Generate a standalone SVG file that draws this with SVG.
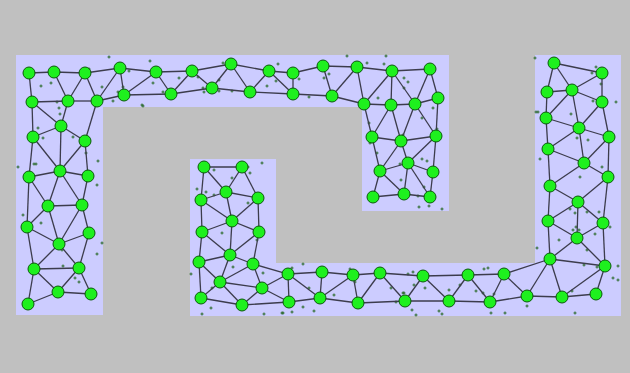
<svg xmlns="http://www.w3.org/2000/svg" xmlns:xlink="http://www.w3.org/1999/xlink" width="630" height="373" viewBox="0 0 630 373">
<style>
.reg{fill:#ccccff;stroke:none}
.e line{stroke:#3c3c4c;stroke-width:1.3}
.n circle{fill:#1ef01e;stroke:#0b5a0b;stroke-width:1}
.d{fill:#2a6a2a}
</style>
<defs>
<path id="p" d="M-1.5,-0.5h1v-1h1v1h1v1h-1v1h-1v-1h-1z"/>
</defs>
<rect width="630" height="373" fill="#c0c0c0"/>
<g id="regions">
<path class="reg" d="M16,55H449V211H362V107H103V315H16Z"/>
<path class="reg" d="M190,159H276V263H535V55H621V316H190Z"/>
</g>
<g id="dots" class="d">
<use xlink:href="#p" x="109" y="57"/><use xlink:href="#p" x="150" y="61"/><use xlink:href="#p" x="41" y="86"/><use xlink:href="#p" x="51" y="83"/><use xlink:href="#p" x="89" y="69"/><use xlink:href="#p" x="129" y="71"/><use xlink:href="#p" x="102" y="87"/><use xlink:href="#p" x="118" y="92"/><use xlink:href="#p" x="113" y="101"/><use xlink:href="#p" x="143" y="106"/><use xlink:href="#p" x="153" y="83"/><use xlink:href="#p" x="57" y="102"/><use xlink:href="#p" x="59" y="108"/><use xlink:href="#p" x="60" y="114"/><use xlink:href="#p" x="38" y="128"/><use xlink:href="#p" x="43" y="138"/><use xlink:href="#p" x="73" y="137"/><use xlink:href="#p" x="86" y="153"/><use xlink:href="#p" x="98" y="161"/><use xlink:href="#p" x="18" y="167"/><use xlink:href="#p" x="34" y="164"/><use xlink:href="#p" x="36" y="164"/><use xlink:href="#p" x="31" y="103"/>
<use xlink:href="#p" x="97" y="185"/><use xlink:href="#p" x="23" y="215"/><use xlink:href="#p" x="41" y="223"/><use xlink:href="#p" x="48" y="205"/><use xlink:href="#p" x="102" y="243"/><use xlink:href="#p" x="97" y="254"/><use xlink:href="#p" x="62" y="250"/><use xlink:href="#p" x="63" y="266"/><use xlink:href="#p" x="75" y="278"/><use xlink:href="#p" x="79" y="282"/><use xlink:href="#p" x="60" y="289"/><use xlink:href="#p" x="87" y="234"/>
<use xlink:href="#p" x="123" y="87"/><use xlink:href="#p" x="163" y="92"/><use xlink:href="#p" x="179" y="78"/><use xlink:href="#p" x="198" y="77"/><use xlink:href="#p" x="203" y="88"/><use xlink:href="#p" x="204" y="92"/><use xlink:href="#p" x="219" y="80"/><use xlink:href="#p" x="219" y="91"/><use xlink:href="#p" x="232" y="91"/><use xlink:href="#p" x="142" y="105"/><use xlink:href="#p" x="223" y="63"/>
<use xlink:href="#p" x="278" y="64"/><use xlink:href="#p" x="347" y="56"/><use xlink:href="#p" x="386" y="56"/><use xlink:href="#p" x="276" y="81"/><use xlink:href="#p" x="267" y="86"/><use xlink:href="#p" x="299" y="79"/><use xlink:href="#p" x="329" y="74"/><use xlink:href="#p" x="324" y="78"/><use xlink:href="#p" x="367" y="63"/><use xlink:href="#p" x="384" y="64"/><use xlink:href="#p" x="309" y="97"/><use xlink:href="#p" x="378" y="98"/><use xlink:href="#p" x="404" y="78"/><use xlink:href="#p" x="408" y="82"/><use xlink:href="#p" x="404" y="88"/><use xlink:href="#p" x="433" y="108"/><use xlink:href="#p" x="422" y="118"/>
<use xlink:href="#p" x="369" y="123"/><use xlink:href="#p" x="377" y="153"/><use xlink:href="#p" x="403" y="135"/><use xlink:href="#p" x="437" y="129"/><use xlink:href="#p" x="400" y="164"/><use xlink:href="#p" x="422" y="159"/><use xlink:href="#p" x="427" y="161"/><use xlink:href="#p" x="401" y="180"/><use xlink:href="#p" x="418" y="196"/><use xlink:href="#p" x="424" y="187"/><use xlink:href="#p" x="419" y="207"/><use xlink:href="#p" x="429" y="206"/><use xlink:href="#p" x="442" y="209"/><use xlink:href="#p" x="370" y="143"/>
<use xlink:href="#p" x="535" y="58"/><use xlink:href="#p" x="596" y="67"/><use xlink:href="#p" x="592" y="73"/><use xlink:href="#p" x="601" y="84"/><use xlink:href="#p" x="593" y="101"/><use xlink:href="#p" x="616" y="102"/><use xlink:href="#p" x="536" y="112"/><use xlink:href="#p" x="538" y="112"/><use xlink:href="#p" x="571" y="114"/><use xlink:href="#p" x="588" y="140"/><use xlink:href="#p" x="577" y="138"/><use xlink:href="#p" x="540" y="159"/><use xlink:href="#p" x="602" y="167"/><use xlink:href="#p" x="580" y="177"/>
<use xlink:href="#p" x="570" y="209"/><use xlink:href="#p" x="575" y="213"/><use xlink:href="#p" x="587" y="212"/><use xlink:href="#p" x="599" y="212"/><use xlink:href="#p" x="573" y="230"/><use xlink:href="#p" x="576" y="227"/><use xlink:href="#p" x="579" y="230"/><use xlink:href="#p" x="559" y="240"/><use xlink:href="#p" x="537" y="248"/><use xlink:href="#p" x="595" y="234"/><use xlink:href="#p" x="587" y="250"/><use xlink:href="#p" x="584" y="265"/><use xlink:href="#p" x="597" y="267"/><use xlink:href="#p" x="618" y="266"/><use xlink:href="#p" x="613" y="278"/><use xlink:href="#p" x="618" y="280"/><use xlink:href="#p" x="572" y="291"/><use xlink:href="#p" x="527" y="306"/><use xlink:href="#p" x="575" y="313"/><use xlink:href="#p" x="610" y="227"/>
<use xlink:href="#p" x="262" y="163"/><use xlink:href="#p" x="248" y="167"/><use xlink:href="#p" x="250" y="173"/><use xlink:href="#p" x="214" y="170"/><use xlink:href="#p" x="232" y="178"/><use xlink:href="#p" x="197" y="189"/><use xlink:href="#p" x="206" y="192"/><use xlink:href="#p" x="214" y="195"/><use xlink:href="#p" x="248" y="203"/><use xlink:href="#p" x="222" y="233"/><use xlink:href="#p" x="257" y="240"/><use xlink:href="#p" x="191" y="274"/><use xlink:href="#p" x="233" y="267"/><use xlink:href="#p" x="263" y="273"/><use xlink:href="#p" x="212" y="288"/><use xlink:href="#p" x="211" y="308"/><use xlink:href="#p" x="202" y="314"/><use xlink:href="#p" x="264" y="314"/><use xlink:href="#p" x="283" y="313"/>
<use xlink:href="#p" x="303" y="264"/><use xlink:href="#p" x="292" y="268"/><use xlink:href="#p" x="309" y="288"/><use xlink:href="#p" x="334" y="295"/><use xlink:href="#p" x="321" y="299"/><use xlink:href="#p" x="282" y="313"/><use xlink:href="#p" x="292" y="312"/><use xlink:href="#p" x="303" y="307"/><use xlink:href="#p" x="314" y="311"/><use xlink:href="#p" x="350" y="269"/><use xlink:href="#p" x="355" y="282"/><use xlink:href="#p" x="391" y="288"/><use xlink:href="#p" x="396" y="302"/><use xlink:href="#p" x="403" y="293"/><use xlink:href="#p" x="408" y="274"/>
<use xlink:href="#p" x="413" y="272"/><use xlink:href="#p" x="414" y="285"/><use xlink:href="#p" x="425" y="288"/><use xlink:href="#p" x="404" y="293"/><use xlink:href="#p" x="412" y="310"/><use xlink:href="#p" x="416" y="315"/><use xlink:href="#p" x="439" y="311"/><use xlink:href="#p" x="442" y="314"/><use xlink:href="#p" x="449" y="290"/><use xlink:href="#p" x="460" y="285"/><use xlink:href="#p" x="476" y="291"/><use xlink:href="#p" x="483" y="293"/><use xlink:href="#p" x="484" y="269"/><use xlink:href="#p" x="488" y="268"/><use xlink:href="#p" x="489" y="300"/><use xlink:href="#p" x="494" y="294"/><use xlink:href="#p" x="491" y="313"/><use xlink:href="#p" x="505" y="313"/>
</g>
<g id="connectors" class="e">
<line x1="29" y1="73" x2="54" y2="72"/><line x1="54" y1="72" x2="85" y2="73"/><line x1="54" y1="72" x2="68" y2="101"/><line x1="85" y1="73" x2="68" y2="101"/><line x1="85" y1="73" x2="97" y2="101"/><line x1="85" y1="73" x2="120" y2="68"/><line x1="120" y1="68" x2="97" y2="101"/><line x1="120" y1="68" x2="124" y2="95"/><line x1="120" y1="68" x2="156" y2="72"/><line x1="29" y1="73" x2="32" y2="102"/><line x1="32" y1="102" x2="68" y2="101"/><line x1="68" y1="101" x2="97" y2="101"/><line x1="97" y1="101" x2="124" y2="95"/><line x1="124" y1="95" x2="156" y2="72"/>
<line x1="32" y1="102" x2="61" y2="126"/><line x1="68" y1="101" x2="61" y2="126"/><line x1="32" y1="102" x2="33" y2="137"/><line x1="61" y1="126" x2="33" y2="137"/><line x1="61" y1="126" x2="85" y2="141"/><line x1="97" y1="101" x2="85" y2="141"/><line x1="61" y1="126" x2="60" y2="171"/><line x1="33" y1="137" x2="60" y2="171"/><line x1="85" y1="141" x2="60" y2="171"/><line x1="85" y1="141" x2="88" y2="176"/><line x1="33" y1="137" x2="29" y2="177"/><line x1="29" y1="177" x2="60" y2="171"/><line x1="60" y1="171" x2="88" y2="176"/>
<line x1="29" y1="177" x2="48" y2="206"/><line x1="60" y1="171" x2="48" y2="206"/><line x1="60" y1="171" x2="82" y2="205"/><line x1="88" y1="176" x2="82" y2="205"/><line x1="48" y1="206" x2="82" y2="205"/><line x1="29" y1="177" x2="27" y2="227"/><line x1="48" y1="206" x2="27" y2="227"/><line x1="48" y1="206" x2="59" y2="244"/><line x1="82" y1="205" x2="59" y2="244"/><line x1="82" y1="205" x2="89" y2="233"/><line x1="27" y1="227" x2="59" y2="244"/><line x1="89" y1="233" x2="59" y2="244"/><line x1="27" y1="227" x2="34" y2="269"/><line x1="59" y1="244" x2="34" y2="269"/><line x1="59" y1="244" x2="79" y2="268"/><line x1="89" y1="233" x2="79" y2="268"/><line x1="34" y1="269" x2="79" y2="268"/><line x1="34" y1="269" x2="58" y2="292"/><line x1="79" y1="268" x2="58" y2="292"/><line x1="79" y1="268" x2="91" y2="294"/><line x1="58" y1="292" x2="91" y2="294"/><line x1="34" y1="269" x2="28" y2="304"/><line x1="28" y1="304" x2="58" y2="292"/>
<line x1="156" y1="72" x2="192" y2="71"/><line x1="156" y1="72" x2="171" y2="94"/><line x1="124" y1="95" x2="171" y2="94"/><line x1="171" y1="94" x2="192" y2="71"/><line x1="192" y1="71" x2="212" y2="88"/><line x1="171" y1="94" x2="212" y2="88"/><line x1="192" y1="71" x2="231" y2="64"/><line x1="212" y1="88" x2="231" y2="64"/><line x1="231" y1="64" x2="250" y2="92"/><line x1="212" y1="88" x2="250" y2="92"/><line x1="231" y1="64" x2="269" y2="71"/><line x1="250" y1="92" x2="269" y2="71"/><line x1="269" y1="71" x2="293" y2="73"/><line x1="269" y1="71" x2="293" y2="94"/><line x1="250" y1="92" x2="293" y2="94"/><line x1="293" y1="73" x2="293" y2="94"/><line x1="293" y1="73" x2="323" y2="66"/><line x1="323" y1="66" x2="332" y2="96"/><line x1="293" y1="94" x2="332" y2="96"/><line x1="323" y1="66" x2="357" y2="67"/><line x1="357" y1="67" x2="332" y2="96"/><line x1="357" y1="67" x2="364" y2="104"/><line x1="332" y1="96" x2="364" y2="104"/><line x1="357" y1="67" x2="392" y2="71"/><line x1="392" y1="71" x2="364" y2="104"/><line x1="392" y1="71" x2="391" y2="105"/><line x1="392" y1="71" x2="415" y2="104"/><line x1="392" y1="71" x2="430" y2="69"/><line x1="430" y1="69" x2="415" y2="104"/><line x1="430" y1="69" x2="438" y2="98"/><line x1="364" y1="104" x2="391" y2="105"/><line x1="391" y1="105" x2="415" y2="104"/><line x1="415" y1="104" x2="438" y2="98"/>
<line x1="364" y1="104" x2="372" y2="137"/><line x1="391" y1="105" x2="372" y2="137"/><line x1="391" y1="105" x2="401" y2="141"/><line x1="415" y1="104" x2="401" y2="141"/><line x1="415" y1="104" x2="436" y2="136"/><line x1="438" y1="98" x2="436" y2="136"/><line x1="372" y1="137" x2="401" y2="141"/><line x1="401" y1="141" x2="436" y2="136"/><line x1="372" y1="137" x2="380" y2="171"/><line x1="401" y1="141" x2="380" y2="171"/><line x1="401" y1="141" x2="408" y2="163"/><line x1="436" y1="136" x2="408" y2="163"/><line x1="436" y1="136" x2="433" y2="172"/><line x1="380" y1="171" x2="408" y2="163"/><line x1="408" y1="163" x2="433" y2="172"/><line x1="380" y1="171" x2="373" y2="197"/><line x1="380" y1="171" x2="404" y2="194"/><line x1="408" y1="163" x2="404" y2="194"/><line x1="408" y1="163" x2="430" y2="197"/><line x1="433" y1="172" x2="430" y2="197"/><line x1="373" y1="197" x2="404" y2="194"/><line x1="404" y1="194" x2="430" y2="197"/>
<line x1="204" y1="167" x2="242" y2="167"/><line x1="204" y1="167" x2="226" y2="192"/><line x1="242" y1="167" x2="226" y2="192"/><line x1="242" y1="167" x2="258" y2="198"/><line x1="204" y1="167" x2="201" y2="200"/><line x1="201" y1="200" x2="226" y2="192"/><line x1="226" y1="192" x2="258" y2="198"/><line x1="201" y1="200" x2="232" y2="221"/><line x1="226" y1="192" x2="232" y2="221"/><line x1="258" y1="198" x2="232" y2="221"/><line x1="258" y1="198" x2="259" y2="232"/><line x1="201" y1="200" x2="202" y2="232"/><line x1="202" y1="232" x2="232" y2="221"/><line x1="232" y1="221" x2="259" y2="232"/><line x1="202" y1="232" x2="230" y2="255"/><line x1="232" y1="221" x2="230" y2="255"/><line x1="259" y1="232" x2="230" y2="255"/><line x1="259" y1="232" x2="253" y2="264"/><line x1="202" y1="232" x2="199" y2="262"/><line x1="199" y1="262" x2="230" y2="255"/><line x1="230" y1="255" x2="253" y2="264"/><line x1="199" y1="262" x2="220" y2="282"/><line x1="230" y1="255" x2="220" y2="282"/><line x1="253" y1="264" x2="220" y2="282"/><line x1="253" y1="264" x2="288" y2="274"/><line x1="253" y1="264" x2="262" y2="288"/><line x1="220" y1="282" x2="262" y2="288"/><line x1="262" y1="288" x2="288" y2="274"/><line x1="262" y1="288" x2="289" y2="302"/><line x1="199" y1="262" x2="201" y2="298"/><line x1="220" y1="282" x2="201" y2="298"/><line x1="220" y1="282" x2="242" y2="305"/><line x1="201" y1="298" x2="242" y2="305"/><line x1="262" y1="288" x2="242" y2="305"/><line x1="242" y1="305" x2="289" y2="302"/>
<line x1="288" y1="274" x2="289" y2="302"/><line x1="288" y1="274" x2="322" y2="272"/><line x1="288" y1="274" x2="320" y2="298"/><line x1="322" y1="272" x2="320" y2="298"/><line x1="289" y1="302" x2="320" y2="298"/><line x1="322" y1="272" x2="353" y2="275"/><line x1="320" y1="298" x2="353" y2="275"/><line x1="353" y1="275" x2="358" y2="303"/><line x1="320" y1="298" x2="358" y2="303"/><line x1="353" y1="275" x2="380" y2="273"/><line x1="358" y1="303" x2="380" y2="273"/><line x1="380" y1="273" x2="405" y2="301"/><line x1="358" y1="303" x2="405" y2="301"/><line x1="380" y1="273" x2="423" y2="276"/><line x1="405" y1="301" x2="423" y2="276"/><line x1="423" y1="276" x2="468" y2="275"/><line x1="423" y1="276" x2="449" y2="301"/><line x1="405" y1="301" x2="449" y2="301"/><line x1="449" y1="301" x2="468" y2="275"/><line x1="468" y1="275" x2="490" y2="302"/><line x1="449" y1="301" x2="490" y2="302"/><line x1="468" y1="275" x2="504" y2="274"/><line x1="490" y1="302" x2="504" y2="274"/><line x1="504" y1="274" x2="527" y2="296"/><line x1="490" y1="302" x2="527" y2="296"/><line x1="504" y1="274" x2="550" y2="259"/><line x1="527" y1="296" x2="550" y2="259"/><line x1="527" y1="296" x2="562" y2="297"/><line x1="550" y1="259" x2="562" y2="297"/><line x1="562" y1="297" x2="596" y2="294"/><line x1="605" y1="266" x2="562" y2="297"/><line x1="605" y1="266" x2="596" y2="294"/><line x1="550" y1="259" x2="605" y2="266"/>
<line x1="550" y1="259" x2="577" y2="238"/><line x1="550" y1="259" x2="548" y2="221"/><line x1="548" y1="221" x2="577" y2="238"/><line x1="577" y1="238" x2="605" y2="266"/><line x1="577" y1="238" x2="603" y2="223"/><line x1="603" y1="223" x2="605" y2="266"/><line x1="548" y1="221" x2="578" y2="202"/><line x1="577" y1="238" x2="578" y2="202"/><line x1="578" y1="202" x2="603" y2="223"/><line x1="608" y1="177" x2="603" y2="223"/><line x1="608" y1="177" x2="578" y2="202"/><line x1="550" y1="186" x2="578" y2="202"/><line x1="550" y1="186" x2="548" y2="221"/><line x1="550" y1="186" x2="548" y2="149"/><line x1="550" y1="186" x2="584" y2="163"/><line x1="584" y1="163" x2="608" y2="177"/><line x1="548" y1="149" x2="584" y2="163"/><line x1="584" y1="163" x2="609" y2="137"/><line x1="608" y1="177" x2="609" y2="137"/><line x1="584" y1="163" x2="579" y2="128"/><line x1="548" y1="149" x2="579" y2="128"/><line x1="548" y1="149" x2="546" y2="118"/><line x1="546" y1="118" x2="579" y2="128"/><line x1="579" y1="128" x2="609" y2="137"/><line x1="609" y1="137" x2="602" y2="102"/><line x1="579" y1="128" x2="602" y2="102"/><line x1="579" y1="128" x2="572" y2="90"/><line x1="546" y1="118" x2="572" y2="90"/><line x1="546" y1="118" x2="547" y2="92"/><line x1="547" y1="92" x2="572" y2="90"/><line x1="572" y1="90" x2="602" y2="102"/><line x1="602" y1="102" x2="602" y2="73"/><line x1="572" y1="90" x2="602" y2="73"/><line x1="572" y1="90" x2="554" y2="63"/><line x1="547" y1="92" x2="554" y2="63"/><line x1="554" y1="63" x2="602" y2="73"/>
</g>
<g class="n">
<g id="n1"><circle cx="29" cy="73" r="6"/></g><g id="n2"><circle cx="54" cy="72" r="6"/></g><g id="n3"><circle cx="85" cy="73" r="6"/></g><g id="n4"><circle cx="120" cy="68" r="6"/></g><g id="n5"><circle cx="156" cy="72" r="6"/></g><g id="n6"><circle cx="32" cy="102" r="6"/></g><g id="n7"><circle cx="68" cy="101" r="6"/></g><g id="n8"><circle cx="97" cy="101" r="6"/></g><g id="n9"><circle cx="124" cy="95" r="6"/></g><g id="n10"><circle cx="61" cy="126" r="6"/></g><g id="n11"><circle cx="33" cy="137" r="6"/></g><g id="n12"><circle cx="85" cy="141" r="6"/></g><g id="n13"><circle cx="60" cy="171" r="6"/></g><g id="n14"><circle cx="29" cy="177" r="6"/></g><g id="n15"><circle cx="88" cy="176" r="6"/></g><g id="n16"><circle cx="48" cy="206" r="6"/></g><g id="n17"><circle cx="82" cy="205" r="6"/></g><g id="n18"><circle cx="27" cy="227" r="6"/></g><g id="n19"><circle cx="89" cy="233" r="6"/></g><g id="n20"><circle cx="59" cy="244" r="6"/></g><g id="n21"><circle cx="34" cy="269" r="6"/></g><g id="n22"><circle cx="79" cy="268" r="6"/></g><g id="n23"><circle cx="58" cy="292" r="6"/></g><g id="n24"><circle cx="91" cy="294" r="6"/></g><g id="n25"><circle cx="28" cy="304" r="6"/></g>
<g id="n26"><circle cx="192" cy="71" r="6"/></g><g id="n27"><circle cx="171" cy="94" r="6"/></g><g id="n28"><circle cx="212" cy="88" r="6"/></g><g id="n29"><circle cx="231" cy="64" r="6"/></g><g id="n30"><circle cx="250" cy="92" r="6"/></g><g id="n31"><circle cx="269" cy="71" r="6"/></g><g id="n32"><circle cx="293" cy="73" r="6"/></g><g id="n33"><circle cx="293" cy="94" r="6"/></g><g id="n34"><circle cx="323" cy="66" r="6"/></g><g id="n35"><circle cx="332" cy="96" r="6"/></g><g id="n36"><circle cx="357" cy="67" r="6"/></g><g id="n37"><circle cx="364" cy="104" r="6"/></g><g id="n38"><circle cx="392" cy="71" r="6"/></g><g id="n39"><circle cx="391" cy="105" r="6"/></g><g id="n40"><circle cx="430" cy="69" r="6"/></g><g id="n41"><circle cx="415" cy="104" r="6"/></g><g id="n42"><circle cx="438" cy="98" r="6"/></g><g id="n43"><circle cx="372" cy="137" r="6"/></g><g id="n44"><circle cx="401" cy="141" r="6"/></g><g id="n45"><circle cx="436" cy="136" r="6"/></g><g id="n46"><circle cx="380" cy="171" r="6"/></g><g id="n47"><circle cx="408" cy="163" r="6"/></g><g id="n48"><circle cx="433" cy="172" r="6"/></g><g id="n49"><circle cx="373" cy="197" r="6"/></g><g id="n50"><circle cx="404" cy="194" r="6"/></g><g id="n51"><circle cx="430" cy="197" r="6"/></g>
<g id="m1"><circle cx="204" cy="167" r="6"/></g><g id="m2"><circle cx="242" cy="167" r="6"/></g><g id="m3"><circle cx="226" cy="192" r="6"/></g><g id="m4"><circle cx="201" cy="200" r="6"/></g><g id="m5"><circle cx="258" cy="198" r="6"/></g><g id="m6"><circle cx="232" cy="221" r="6"/></g><g id="m7"><circle cx="202" cy="232" r="6"/></g><g id="m8"><circle cx="259" cy="232" r="6"/></g><g id="m9"><circle cx="230" cy="255" r="6"/></g><g id="m10"><circle cx="199" cy="262" r="6"/></g><g id="m11"><circle cx="253" cy="264" r="6"/></g><g id="m12"><circle cx="220" cy="282" r="6"/></g><g id="m13"><circle cx="262" cy="288" r="6"/></g><g id="m14"><circle cx="201" cy="298" r="6"/></g><g id="m15"><circle cx="242" cy="305" r="6"/></g><g id="m16"><circle cx="288" cy="274" r="6"/></g><g id="m17"><circle cx="289" cy="302" r="6"/></g><g id="m18"><circle cx="322" cy="272" r="6"/></g><g id="m19"><circle cx="320" cy="298" r="6"/></g><g id="m20"><circle cx="353" cy="275" r="6"/></g><g id="m21"><circle cx="358" cy="303" r="6"/></g><g id="m22"><circle cx="380" cy="273" r="6"/></g><g id="m23"><circle cx="405" cy="301" r="6"/></g><g id="m24"><circle cx="423" cy="276" r="6"/></g><g id="m25"><circle cx="468" cy="275" r="6"/></g><g id="m26"><circle cx="449" cy="301" r="6"/></g><g id="m27"><circle cx="504" cy="274" r="6"/></g><g id="m28"><circle cx="490" cy="302" r="6"/></g><g id="m29"><circle cx="527" cy="296" r="6"/></g><g id="m30"><circle cx="562" cy="297" r="6"/></g><g id="m31"><circle cx="596" cy="294" r="6"/></g><g id="m32"><circle cx="550" cy="259" r="6"/></g><g id="m33"><circle cx="605" cy="266" r="6"/></g><g id="m34"><circle cx="548" cy="221" r="6"/></g><g id="m35"><circle cx="577" cy="238" r="6"/></g><g id="m36"><circle cx="603" cy="223" r="6"/></g><g id="m37"><circle cx="550" cy="186" r="6"/></g><g id="m38"><circle cx="578" cy="202" r="6"/></g><g id="m39"><circle cx="608" cy="177" r="6"/></g><g id="m40"><circle cx="548" cy="149" r="6"/></g><g id="m41"><circle cx="584" cy="163" r="6"/></g><g id="m42"><circle cx="609" cy="137" r="6"/></g><g id="m43"><circle cx="546" cy="118" r="6"/></g><g id="m44"><circle cx="579" cy="128" r="6"/></g><g id="m45"><circle cx="547" cy="92" r="6"/></g><g id="m46"><circle cx="572" cy="90" r="6"/></g><g id="m47"><circle cx="602" cy="102" r="6"/></g><g id="m48"><circle cx="554" cy="63" r="6"/></g><g id="m49"><circle cx="602" cy="73" r="6"/></g>
</g>
</svg>
